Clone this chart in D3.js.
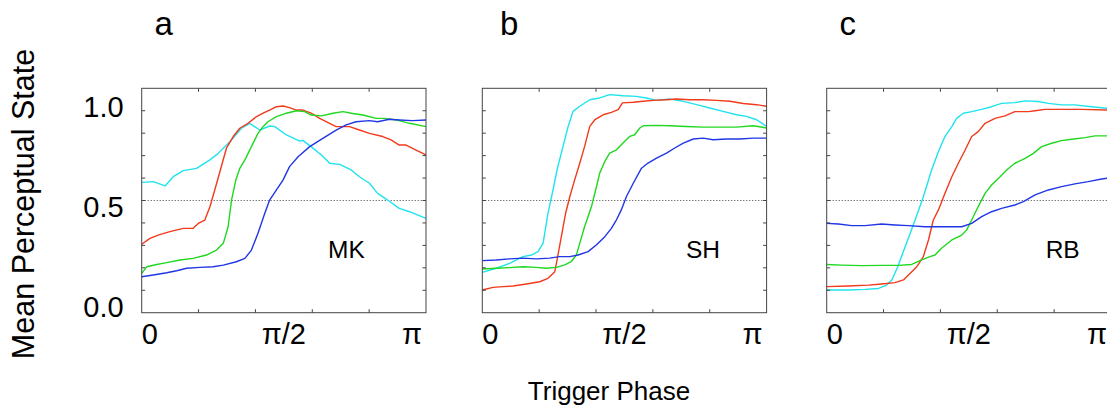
<!DOCTYPE html>
<html><head><meta charset="utf-8">
<script src="https://cdn.jsdelivr.net/npm/d3@7"></script>
<style>
html,body{margin:0;padding:0;background:#fff;}
svg{display:block;font-family:"Liberation Sans",Arial,Helvetica,sans-serif;}
</style></head>
<body>
<svg id="chart" width="1107" height="410"></svg>
<script>
// ---- data (x in units of π, y = mean perceptual state) ----
const panelLetters = ["a", "b", "c"];
const subjects = ["MK", "SH", "RB"];
const xTickValues = [0, 0.5, 1];
const xTickLabels = ["0", "π/2", "π"];
const yTickValues = [0, 0.5, 1];
const yTickLabels = ["0.0", "0.5", "1.0"];
const yTitle = "Mean Perceptual State";
const xTitle = "Trigger Phase";
const threshold = 0.5;

const cyanA = [[0,.581],[.041,.584],[.082,.565],[.111,.606],[.146,.633],[.193,.643],[.240,.681],[.269,.710],[.310,.762],[.351,.822],[.380,.844],[.415,.814],[.450,.832],[.468,.829],[.509,.792],[.556,.765],[.567,.768],[.596,.740],[.632,.703],[.661,.666],[.696,.661],[.737,.636],[.766,.606],[.801,.577],[.830,.532],[.865,.502],[.906,.465],[.942,.450],[1,.420]];
const redA = [[0,.305],[.029,.331],[.058,.346],[.099,.361],[.146,.376],[.181,.376],[.199,.398],[.222,.413],[.240,.472],[.257,.547],[.275,.628],[.298,.733],[.322,.785],[.345,.822],[.374,.844],[.404,.874],[.427,.889],[.450,.903],[.474,.918],[.497,.921],[.520,.914],[.544,.903],[.567,.903],[.596,.889],[.626,.866],[.661,.844],[.684,.829],[.731,.829],[.766,.814],[.801,.799],[.848,.785],[.877,.770],[.906,.747],[.930,.747],[.965,.725],[1,.703]];
const greenA = [[0,.175],[.018,.205],[.053,.215],[.088,.223],[.135,.235],[.181,.242],[.228,.257],[.263,.279],[.287,.309],[.304,.383],[.316,.502],[.331,.591],[.345,.643],[.363,.681],[.386,.740],[.409,.799],[.427,.829],[.444,.851],[.474,.874],[.509,.889],[.544,.900],[.573,.896],[.596,.881],[.632,.877],[.673,.889],[.708,.896],[.737,.889],[.778,.881],[.825,.866],[.854,.866],[.895,.859],[.942,.844],[1,.829]];
const blueA = [[0,.160],[.041,.168],[.088,.178],[.123,.187],[.158,.198],[.205,.202],[.251,.205],[.287,.212],[.333,.227],[.363,.242],[.386,.279],[.409,.354],[.433,.443],[.450,.502],[.474,.547],[.497,.591],[.520,.651],[.550,.695],[.591,.740],[.637,.777],[.684,.814],[.719,.837],[.754,.851],[.801,.856],[.830,.851],[.871,.862],[.906,.859],[.953,.856],[1,.859]];

const cyanB = [[0,.180],[.049,.198],[.096,.220],[.143,.250],[.173,.257],[.196,.272],[.214,.310],[.231,.443],[.249,.548],[.263,.637],[.284,.741],[.302,.830],[.319,.897],[.343,.920],[.378,.949],[.413,.957],[.448,.972],[.495,.967],[.542,.964],[.577,.957],[.613,.946],[.660,.952],[.707,.942],[.754,.927],[.800,.912],[.847,.897],[.894,.882],[.930,.875],[.965,.860],[1,.830]];
const redB = [[0,.101],[.038,.113],[.073,.116],[.108,.119],[.155,.128],[.202,.138],[.231,.153],[.255,.183],[.263,.235],[.278,.339],[.293,.443],[.308,.518],[.325,.592],[.343,.667],[.360,.741],[.378,.830],[.396,.860],[.425,.882],[.454,.893],[.478,.905],[.493,.935],[.531,.938],[.566,.942],[.601,.946],[.648,.949],[.683,.952],[.730,.949],[.777,.949],[.824,.946],[.871,.942],[.918,.932],[.965,.927],[1,.920]];
const greenB = [[0,.195],[.049,.198],[.096,.201],[.143,.205],[.190,.202],[.225,.198],[.261,.202],[.290,.213],[.313,.228],[.331,.257],[.343,.310],[.360,.384],[.384,.473],[.399,.548],[.413,.622],[.431,.674],[.448,.711],[.472,.726],[.495,.756],[.519,.786],[.536,.793],[.554,.823],[.566,.833],[.613,.835],[.660,.833],[.718,.830],[.777,.827],[.836,.827],[.894,.827],[.953,.833],[1,.823]];
const blueB = [[0,.232],[.049,.235],[.096,.240],[.143,.243],[.190,.240],[.237,.243],[.272,.250],[.308,.250],[.337,.257],[.372,.272],[.401,.302],[.431,.339],[.454,.376],[.472,.414],[.489,.458],[.507,.518],[.531,.577],[.560,.644],[.583,.667],[.613,.689],[.648,.711],[.677,.734],[.707,.756],[.742,.774],[.777,.778],[.812,.771],[.859,.774],[.906,.774],[.953,.778],[1,.778]];

const cyanC = [[0,.101],[.076,.101],[.135,.104],[.182,.108],[.211,.123],[.229,.146],[.250,.205],[.276,.294],[.311,.413],[.340,.517],[.369,.636],[.393,.718],[.416,.785],[.440,.829],[.457,.866],[.481,.889],[.510,.896],[.545,.906],[.580,.918],[.615,.933],[.662,.936],[.698,.944],[.744,.941],[.780,.933],[.826,.926],[.873,.926],[.932,.918],[.986,.911],[1,.910]];
const redC = [[0,.116],[.076,.119],[.147,.123],[.193,.128],[.240,.134],[.270,.146],[.293,.175],[.317,.205],[.340,.250],[.358,.324],[.375,.413],[.393,.458],[.416,.532],[.440,.606],[.463,.666],[.487,.725],[.510,.785],[.533,.807],[.557,.844],[.592,.866],[.627,.877],[.662,.896],[.709,.896],[.733,.900],[.768,.906],[.838,.906],[.897,.906],[.986,.903],[1,.903]];
const greenC = [[0,.215],[.053,.212],[.123,.210],[.193,.211],[.252,.211],[.299,.215],[.334,.235],[.363,.250],[.381,.257],[.404,.287],[.440,.324],[.475,.346],[.492,.368],[.510,.413],[.533,.473],[.557,.532],[.580,.569],[.610,.606],[.633,.636],[.662,.666],[.698,.688],[.727,.710],[.756,.740],[.791,.755],[.826,.767],[.862,.773],[.909,.780],[.944,.788],[.986,.788],[1,.789]];
const blueC = [[0,.398],[.041,.395],[.088,.388],[.135,.388],[.193,.395],[.240,.391],[.287,.388],[.346,.383],[.404,.383],[.475,.383],[.510,.398],[.545,.428],[.580,.450],[.615,.465],[.662,.480],[.692,.495],[.733,.525],[.780,.547],[.826,.562],[.873,.574],[.920,.584],[.967,.596],[.986,.599],[1,.600]];

const seriesColors = ["#1fe3ee", "#f23a1c", "#1fd81f", "#2136e6"];
const panelSeries = [
  [cyanA, redA, greenA, blueA],
  [cyanB, redB, greenB, blueB],
  [cyanC, redC, greenC, blueC]
];

// ---- layout ----
const panelLeft = [141.7, 482.3, 826.7];
const panelW = 284.3, plotTop = 88.3, plotBottom = 312.7, H = plotBottom - plotTop;
const letterOffset = [22, 27, 21];
const subjectPos = [0.72, 0.776, 0.83];   // x (in π units) of subject name centre
const subjectBaselineVal = 0.244;

const svg = d3.select("#chart");
const frameColor = "#444";

panelSeries.forEach((series, i) => {
  const g = svg.append("g").attr("transform", `translate(${panelLeft[i]},${plotTop})`);
  const x = d3.scaleLinear().domain([0, 1]).range([0, panelW]);
  const y = d3.scaleLinear().domain([0, 1]).range([H, 0]);

  // threshold line
  g.append("line")
    .attr("x1", x(0)).attr("x2", x(1))
    .attr("y1", y(threshold)).attr("y2", y(threshold))
    .attr("stroke", "#444").attr("stroke-width", 1)
    .attr("stroke-dasharray", "1,2");

  // data lines
  const line = d3.line().x(d => x(d[0])).y(d => y(d[1]));
  series.forEach((s, k) => {
    g.append("path").datum(s)
      .attr("d", line)
      .attr("fill", "none")
      .attr("stroke", seriesColors[k])
      .attr("stroke-width", 1.4)
      .attr("stroke-linejoin", "round");
  });

  // frame
  g.append("rect").attr("x", 0).attr("y", 0).attr("width", panelW).attr("height", H)
    .attr("fill", "none").attr("stroke", frameColor).attr("stroke-width", 1);

  // inward minor ticks on all sides
  const xt = d3.range(1, 5).map(v => v / 5);
  const yt = d3.range(1, 10).map(v => v / 10);
  const tl = 3.5;
  xt.forEach(v => {
    g.append("line").attr("x1", x(v)).attr("x2", x(v)).attr("y1", H).attr("y2", H - tl)
      .attr("stroke", frameColor).attr("stroke-width", 1);
    g.append("line").attr("x1", x(v)).attr("x2", x(v)).attr("y1", 0).attr("y2", tl)
      .attr("stroke", frameColor).attr("stroke-width", 1);
  });
  yt.forEach(v => {
    g.append("line").attr("x1", 0).attr("x2", tl).attr("y1", y(v)).attr("y2", y(v))
      .attr("stroke", frameColor).attr("stroke-width", 1);
    g.append("line").attr("x1", panelW).attr("x2", panelW - tl).attr("y1", y(v)).attr("y2", y(v))
      .attr("stroke", frameColor).attr("stroke-width", 1);
  });

  // x tick labels
  xTickValues.forEach((v, j) => {
    const last = j === xTickValues.length - 1;
    g.append("text")
      .attr("x", x(v) + (last ? -4 : 0)).attr("y", H + 31.5)
      .attr("text-anchor", j === 0 ? "start" : (last ? "end" : "middle"))
      .attr("font-size", 29).attr("fill", "#000")
      .text(xTickLabels[j]);
  });

  // panel letter
  svg.append("text")
    .attr("x", panelLeft[i] + letterOffset[i]).attr("y", 35)
    .attr("text-anchor", "middle").attr("font-size", 33).attr("fill", "#000")
    .text(panelLetters[i]);

  // subject name
  g.append("text")
    .attr("x", x(subjectPos[i])).attr("y", y(subjectBaselineVal))
    .attr("text-anchor", "middle").attr("font-size", 24.5).attr("fill", "#000")
    .text(subjects[i]);

  // y tick labels only on first panel
  if (i === 0) {
    const yl = d3.scaleLinear().domain([0, 1]).range([316.7 - plotTop, 116.7 - plotTop]);
    yTickValues.forEach((v, j) => {
      g.append("text")
        .attr("x", -18).attr("y", yl(v))
        .attr("text-anchor", "end").attr("font-size", 29).attr("fill", "#000")
        .text(yTickLabels[j]);
    });
  }
});

// axis titles
svg.append("text")
  .attr("transform", "translate(34,204) rotate(-90)")
  .attr("text-anchor", "middle").attr("font-size", 30.5).attr("fill", "#000")
  .text(yTitle);

svg.append("text")
  .attr("x", 609).attr("y", 400)
  .attr("text-anchor", "middle").attr("font-size", 26).attr("fill", "#000")
  .text(xTitle);
</script>
</body></html>
